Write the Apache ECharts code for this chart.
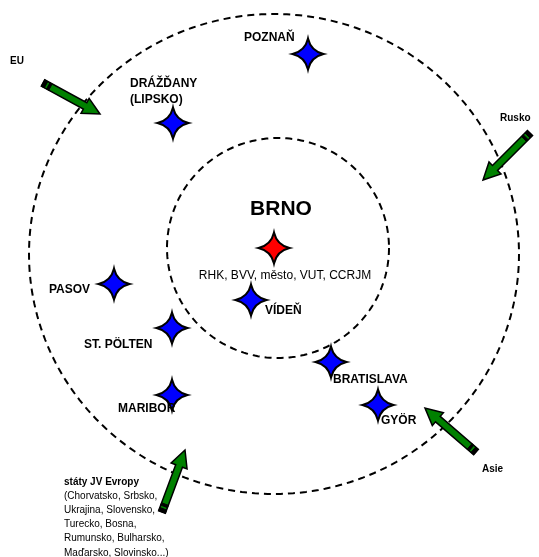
<!DOCTYPE html>
<html><head><meta charset="utf-8">
<script src="https://cdn.jsdelivr.net/npm/echarts@6/dist/echarts.min.js"></script>
<style>html,body{margin:0;padding:0;background:#fff}#c{width:539px;height:557px}</style>
</head><body><div id="c"></div>
<script>
// ---- data (diagram units = positions on the 539x557 sheet) ----
const ringNames = ['vnější', 'vnitřní'];
const ringCX = [274, 278];
const ringCY = [254, 248];
const ringRX = [245, 111];
const ringRY = [240, 110];

const cityNames = ['POZNAŇ', 'DRÁŽĎANY', 'BRNO', 'VÍDEŇ', 'PASOV', 'ST. PÖLTEN', 'MARIBOR', 'BRATISLAVA', 'GYÖR'];
const cityX = [308, 173, 274, 251, 114, 172, 172, 331, 378];
const cityY = [54, 123, 248, 300, 284, 328, 395, 362, 405];
const hubName = 'BRNO';

const labelTexts = ['POZNAŇ', 'DRÁŽĎANY', '(LIPSKO)', 'VÍDEŇ', 'PASOV', 'ST. PÖLTEN', 'MARIBOR', 'BRATISLAVA', 'GYÖR'];
const labelX = [244, 130, 130, 265, 49, 84, 118, 333, 381];
const labelY = [38, 84, 100, 311, 290, 345, 409, 380, 421];

const hubTitle = 'BRNO';
const hubTitleX = 281, hubTitleY = 209;
const hubNote = 'RHK, BVV, město, VUT, CCRJM';
const hubNoteX = 285, hubNoteY = 276;

const arrowNames = ['EU', 'Rusko', 'Asie', 'státy JV Evropy'];
const arrowTailX = [43, 530, 476, 162];
const arrowTailY = [83, 133, 452, 512];
const arrowTipX = [100, 483, 425, 185];
const arrowTipY = [114, 180, 408, 450];
const arrowLabelX = [10, 500, 482, 64];
const arrowLabelY = [61, 118, 469, 482];

const noteLines = ['(Chorvatsko, Srbsko,', 'Ukrajina, Slovensko,', 'Turecko, Bosna,', 'Rumunsko, Bulharsko,', 'Maďarsko, Slovinsko...)'];
const noteX = 64, noteTopY = 496;

// ---- rendering ----
const FONT = '"Liberation Sans", Arial, sans-serif';
const chart = echarts.init(document.getElementById('c'), null, {renderer: 'canvas'});
const starPath = 'path://M0,-18 Q3.4,-3.4 18,0 Q3.4,3.4 0,18 Q-3.4,3.4 -18,0 Q-3.4,-3.4 0,-18 Z';

function ringItem(params, api) {
  const cx = api.value(0), cy = api.value(1), rx = api.value(2), ry = api.value(3);
  const pts = [];
  for (let i = 0; i < 240; i++) {
    const t = i / 240 * Math.PI * 2;
    pts.push(api.coord([cx + rx * Math.cos(t), cy + ry * Math.sin(t)]));
  }
  return {type: 'polygon', shape: {points: pts}, style: {fill: null, stroke: '#000', lineWidth: 2, lineDash: [7, 5]}};
}

function arrowItem(params, api) {
  const a = api.coord([api.value(0), api.value(1)]);
  const b = api.coord([api.value(2), api.value(3)]);
  const dx = b[0] - a[0], dy = b[1] - a[1], L = Math.hypot(dx, dy);
  const ux = dx / L, uy = dy / L, nx = -uy, ny = ux;
  const hw = 3.6, hh = 8.5, hl = 17;
  const P = (t, s) => [a[0] + ux * t + nx * s, a[1] + uy * t + ny * s];
  const body = [P(0, hw), P(L - hl, hw), P(L - hl, hh), P(L, 0), P(L - hl, -hh), P(L - hl, -hw), P(0, -hw)];
  const children = [
    {type: 'polygon', shape: {points: body}, style: {fill: '#008000', stroke: '#000', lineWidth: 1.5, lineJoin: 'miter'}},
    {type: 'polygon', shape: {points: [P(0, hw), P(3.5, hw), P(3.5, -hw), P(0, -hw)]}, style: {fill: '#000', stroke: '#000', lineWidth: 1}},
    {type: 'polygon', shape: {points: [P(6, hw), P(8.5, hw), P(8.5, -hw), P(6, -hw)]}, style: {fill: '#000', stroke: '#000', lineWidth: 1}}
  ];
  return {type: 'group', children};
}

function textItem(params, api) {
  const p = api.coord([api.value(0), api.value(1)]);
  const d = textData[params.dataIndex];
  return {type: 'text', x: p[0], y: p[1], style: {text: d.text, font: d.font, fill: '#000', align: d.align, verticalAlign: 'middle', textAlign: d.align, textVerticalAlign: 'middle'}};
}

const textData = [];
labelTexts.forEach((t, i) => textData.push({value: [labelX[i], labelY[i]], text: t, font: 'bold 12px ' + FONT, align: 'left'}));
textData.push({value: [hubTitleX, hubTitleY], text: hubTitle, font: 'bold 21px ' + FONT, align: 'center'});
textData.push({value: [hubNoteX, hubNoteY], text: hubNote, font: '12px ' + FONT, align: 'center'});
arrowNames.forEach((t, i) => textData.push({value: [arrowLabelX[i], arrowLabelY[i]], text: t, font: 'bold 10px ' + FONT, align: 'left'}));
noteLines.forEach((t, i) => textData.push({value: [noteX, noteTopY + i * 14.2], text: t, font: '10px ' + FONT, align: 'left'}));

chart.setOption({
  animation: false,
  backgroundColor: '#fff',
  grid: {left: 0, right: 0, top: 0, bottom: 0},
  xAxis: {type: 'value', min: 0, max: 539, show: false},
  yAxis: {type: 'value', min: 0, max: 557, inverse: true, show: false},
  series: [
    {type: 'custom', name: 'kruhy', renderItem: ringItem, silent: true,
     data: ringNames.map((n, i) => ({name: n, value: [ringCX[i], ringCY[i], ringRX[i], ringRY[i]]}))},
    {type: 'custom', name: 'šipky', renderItem: arrowItem, silent: true,
     data: arrowNames.map((n, i) => ({name: n, value: [arrowTailX[i], arrowTailY[i], arrowTipX[i], arrowTipY[i]]}))},
    {type: 'scatter', name: 'města', symbol: starPath, symbolSize: [31, 31], z: 5,
     itemStyle: {color: p => p.name === hubName ? '#ff0000' : '#0000ff', borderColor: '#000', borderWidth: 2, opacity: 1},
     data: cityNames.map((n, i) => ({name: n, value: [cityX[i], cityY[i]]}))},
    {type: 'custom', name: 'texty', renderItem: textItem, silent: true, z: 6,
     data: textData.map(d => d.value)}
  ]
});
</script></body></html>
